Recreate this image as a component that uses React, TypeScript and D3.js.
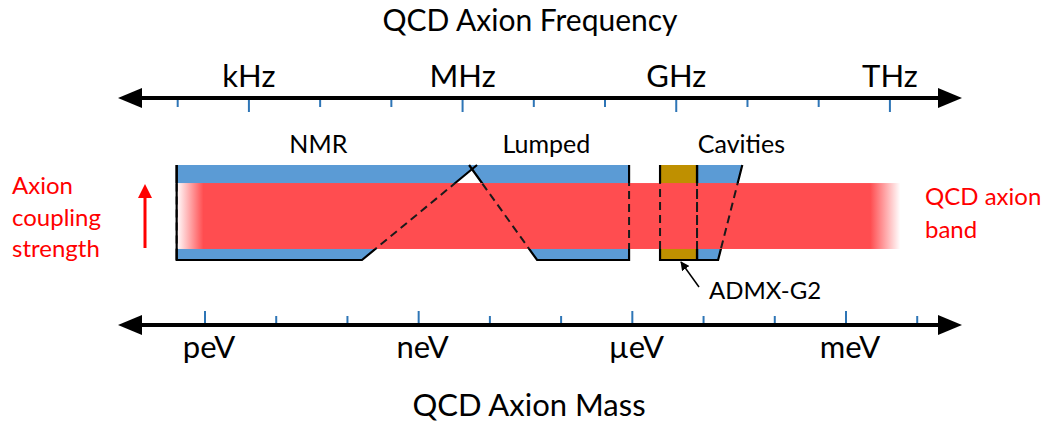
import React from "react";
import * as d3 from "d3";

// axis ticks (mass in eV, frequency in Hz)
const massTicks = [1e-12, 1e-11, 1e-10, 1e-9, 1e-8, 1e-7, 1e-6, 1e-5, 1e-4, 1e-3, 1e-2];
const massLabels = ["peV", "neV", "\u00b5eV", "meV"];
const massLabelValues = [1e-12, 1e-9, 1e-6, 1e-3];
const freqTicks = [1e2, 1e3, 1e4, 1e5, 1e6, 1e7, 1e8, 1e9, 1e10, 1e11, 1e12];
const freqLabels = ["kHz", "MHz", "GHz", "THz"];
const freqLabelValues = [1e3, 1e6, 1e9, 1e12];
const HZ_PER_EV = 2.418e14;

// sensitivity shapes: [mass eV, coupling (0 = bottom, 1 = top)], order TL, TR, BR, BL
const nmrShape: [number, number][] = [[4e-13, 1], [6.6e-9, 1], [1.6e-10, 0], [4e-13, 0]];
const lumpedShape: [number, number][] = [[5.1e-9, 1], [9e-7, 1], [9e-7, 0], [4.6e-8, 0]];
const admxShape: [number, number][] = [[2.45e-6, 1], [8.1e-6, 1], [8.1e-6, 0], [2.45e-6, 0]];
const cavityShape: [number, number][] = [[8.1e-6, 1], [3.5e-5, 1], [1.6e-5, 0], [8.1e-6, 0]];

const techNames = ["NMR", "Lumped", "Cavities"];
const techLabelMass = [3.9e-11, 6.2e-8, 3.4e-5];

// QCD axion band
const bandCoupling = [0.116, 0.81];
const bandMass = [4e-13, 5.8e-3];
const bandSolidMass = [9.5e-13, 2.2e-3];

const W = 1047;
const H = 425;
const FONT = "Lato, 'Open Sans', sans-serif";

const x = d3.scaleLog().domain([1e-12, 1e-3]).range([205, 846]);
const xf = d3.scaleLog().domain([1e-12 * HZ_PER_EV, 1e-3 * HZ_PER_EV]).range([205, 846]);
const y = d3.scaleLinear().domain([0, 1]).range([260, 165]);

const line = d3
  .line<[number, number]>()
  .x(d => x(d[0]))
  .y(d => y(d[1]));

const topAxisY = 98;
const botAxisY = 325;
const axisX0 = 118;
const axisX1 = 962;

const isMajor = (v: number, majors: number[]) => majors.some(m => Math.abs(Math.log10(m) - Math.log10(v)) < 1e-6);

const Axis: React.FC<{ yPos: number }> = ({ yPos }) => (
  <g>
    <line x1={axisX0 + 20} x2={axisX1 - 20} y1={yPos} y2={yPos} stroke="#000" strokeWidth={4} />
    <path d={`M${axisX0},${yPos} L${axisX0 + 24},${yPos - 10} L${axisX0 + 24},${yPos + 10} Z`} fill="#000" />
    <path d={`M${axisX1},${yPos} L${axisX1 - 24},${yPos - 10} L${axisX1 - 24},${yPos + 10} Z`} fill="#000" />
  </g>
);

const App: React.FC = () => {
  // every edge except the top one
  const outline = (s: [number, number][]) => line([s[1], s[2], s[3], s[0]]) ?? "";
  const bx0 = x(bandMass[0]);
  const bx1 = x(bandMass[1]);
  const bw = bx1 - bx0;
  const bandTop = y(bandCoupling[1]);
  const bandBot = y(bandCoupling[0]);
  const dashed = { stroke: "#1a1a1a", strokeWidth: 2, strokeDasharray: "8,5", fill: "none" };
  const solid = { stroke: "#000", strokeWidth: 2.2, fill: "none" };

  return (
    <svg width={W} height={H} style={{ position: "absolute", left: 0, top: 0 }} fontFamily={FONT}>
      <defs>
        <linearGradient id="bandGrad" gradientUnits="userSpaceOnUse" x1={bx0} x2={bx1} y1={0} y2={0}>
          <stop offset={0} stopColor="#fff" />
          <stop offset={(x(bandSolidMass[0]) - bx0) / bw} stopColor="#FF4D50" />
          <stop offset={(x(bandSolidMass[1]) - bx0) / bw} stopColor="#FF4D50" />
          <stop offset={1} stopColor="#fff" />
        </linearGradient>
        <clipPath id="inBand">
          <rect x={0} y={bandTop} width={W} height={bandBot - bandTop} />
        </clipPath>
        <clipPath id="outBand">
          <rect x={0} y={0} width={W} height={bandTop} />
          <rect x={0} y={bandBot} width={W} height={H - bandBot} />
        </clipPath>
        <marker id="arrowHead" viewBox="0 0 10 10" refX={9} refY={5} markerWidth={6} markerHeight={6} orient="auto">
          <path d="M0,0 L10,5 L0,10 Z" fill="#000" />
        </marker>
      </defs>

      {/* titles */}
      <text x={530} y={31} textAnchor="middle" fontSize={30} fill="#000">QCD Axion Frequency</text>
      <text x={529} y={416} textAnchor="middle" fontSize={31} fill="#000">QCD Axion Mass</text>

      {/* frequency axis */}
      <Axis yPos={topAxisY} />
      {freqTicks.map(f => (
        <line key={f} x1={xf(f)} x2={xf(f)} y1={topAxisY + 2} y2={topAxisY + (isMajor(f, freqLabelValues) ? 14 : 9)} stroke="#2E75B6" strokeWidth={2} />
      ))}
      {freqLabels.map((l, i) => (
        <text key={l} x={xf(freqLabelValues[i])} y={87} textAnchor="middle" fontSize={31}>{l}</text>
      ))}

      {/* mass axis */}
      <Axis yPos={botAxisY} />
      {massTicks.map(m => (
        <line key={m} x1={x(m)} x2={x(m)} y1={botAxisY - 2} y2={botAxisY - (isMajor(m, massLabelValues) ? 14 : 9)} stroke="#2E75B6" strokeWidth={2} />
      ))}
      {massLabels.map((l, i) => (
        <text key={l} x={x(massLabelValues[i]) + 4} y={358} textAnchor="middle" fontSize={31}>{l}</text>
      ))}

      {/* sensitivity regions */}
      {[nmrShape, lumpedShape, cavityShape].map((s, i) => (
        <path key={i} d={line(s) + "Z"} fill="#5B9BD5" />
      ))}
      <path d={line(admxShape) + "Z"} fill="#BF9000" />

      {/* QCD axion band */}
      <rect x={bx0} y={bandTop} width={bw} height={bandBot - bandTop} fill="url(#bandGrad)" />

      {/* outlines: solid outside the band, dashed inside */}
      {[nmrShape, lumpedShape, admxShape, cavityShape].map((s, i) => (
        <g key={i}>
          <path d={outline(s)} {...solid} clipPath="url(#outBand)" />
          <path d={outline(s)} {...dashed} clipPath="url(#inBand)" />
        </g>
      ))}
      <path d={line([nmrShape[3], nmrShape[0]]) ?? ""} {...solid} />

      {techNames.map((n, i) => (
        <text key={n} x={x(techLabelMass[i])} y={153} textAnchor="middle" fontSize={25} fill="#000">{n}</text>
      ))}

      {/* ADMX-G2 pointer */}
      <line x1={699} y1={287} x2={681} y2={262} stroke="#000" strokeWidth={1.5} markerEnd="url(#arrowHead)" />
      <text x={709} y={299} fontSize={24} fill="#000">ADMX-G2</text>

      {/* red annotations */}
      <g fill="#FF0000" fontSize={24}>
        <text x={12} y={194}>Axion</text>
        <text x={12} y={226}>coupling</text>
        <text x={12} y={257}>strength</text>
        <text x={925} y={205}>QCD axion</text>
        <text x={925} y={238}>band</text>
      </g>
      <line x1={145} y1={248} x2={145} y2={196} stroke="#FF0000" strokeWidth={3} />
      <path d="M145,184 L138,198 L152,198 Z" fill="#FF0000" />
    </svg>
  );
};

export default App;
